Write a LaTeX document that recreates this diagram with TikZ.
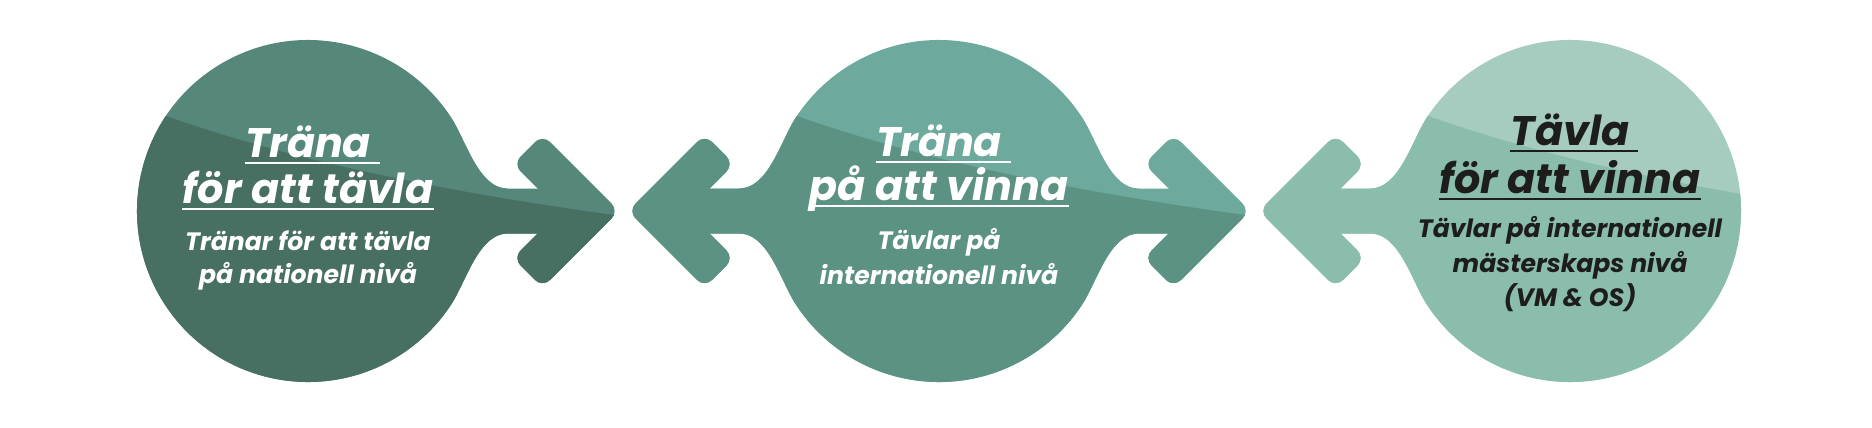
\documentclass[tikz,border=0pt]{standalone}
\usepackage{fontspec}
\setmainfont{Poppins}
\usepackage{tikz}
\usetikzlibrary{positioning}

\definecolor{topp1}{HTML}{55877A}
\definecolor{botten1}{HTML}{476F62}
\definecolor{topp2}{HTML}{6DA99D}
\definecolor{botten2}{HTML}{5C9283}
\definecolor{topp3}{HTML}{A6CBBF}
\definecolor{botten3}{HTML}{8ABDAC}
\definecolor{svart}{HTML}{1D1D1B}

% 形のパス (中心からの相対座標)
\newcommand{\kroppH}{(32:171) arc[start angle=32, end angle=328, radius=171]
  .. controls (160,-65) and (172,-22.5) .. (200,-22.5) -- (250,-22.5) -- (250,22.5) -- (200,22.5)
  .. controls (172,22.5) and (160,65) .. (32:171) -- cycle}
\newcommand{\kroppHV}{(32:171) arc[start angle=32, end angle=148, radius=171]
  .. controls (-160,65) and (-172,22.5) .. (-200,22.5) -- (-250,22.5) -- (-250,-22.5) -- (-200,-22.5)
  .. controls (-172,-22.5) and (-160,-65) .. (212:171) arc[start angle=212, end angle=328, radius=171]
  .. controls (160,-65) and (172,-22.5) .. (200,-22.5) -- (250,-22.5) -- (250,22.5) -- (200,22.5)
  .. controls (172,22.5) and (160,65) .. (32:171) -- cycle}
\newcommand{\kroppV}{(212:171) arc[start angle=212, end angle=508, radius=171]
  .. controls (-160,65) and (-172,22.5) .. (-200,22.5) -- (-250,22.5) -- (-250,-22.5) -- (-200,-22.5)
  .. controls (-172,-22.5) and (-160,-65) .. (212:171) -- cycle}
\newcommand{\huvudH}{(311,0) -- (234.5,76.5) -- (205,47) -- (252,0) -- (205,-47) -- (234.5,-76.5) -- cycle}
\newcommand{\huvudV}{(-311,0) -- (-234.5,76.5) -- (-205,47) -- (-252,0) -- (-205,-47) -- (-234.5,-76.5) -- cycle}
\newcommand{\delning}{(-230,123) -- (-142,95) .. controls (-20,52) and (130,20) .. (306,-4) -- (345,-9)
  -- (345,-200) -- (-345,-200) -- (-345,123) -- cycle}

\tikzset{
  rubrik/.style={font=\fontsize{23.5}{23.5}\selectfont\bfseries\itshape, inner sep=0pt, anchor=base},
  under/.style={font=\fontsize{14.3}{14.3}\selectfont\bfseries\itshape, inner sep=0pt, anchor=base},
  streck/.style={line width=1.1pt},
  spets/.style={rounded corners=6pt}
}

\begin{document}
\begin{tikzpicture}[x=0.02cm, y=0.02cm]
    \useasboundingbox (0,0) rectangle (1872,427);

    % 左の形
    \begin{scope}[shift={(308,216)}]
        \fill[topp1] \kroppH;
        \fill[topp1, spets] \huvudH;
        \begin{scope}
            \clip \kroppH;
            \fill[botten1] \delning;
        \end{scope}
        \begin{scope}
            \clip[spets] \huvudH;
            \fill[botten1] \delning;
        \end{scope}
    \end{scope}

    % 中央の形
    \begin{scope}[shift={(939,216)}]
        \fill[topp2] \kroppHV;
        \fill[topp2, spets] \huvudH;
        \fill[topp2, spets] \huvudV;
        \begin{scope}
            \clip \kroppHV;
            \fill[botten2] \delning;
        \end{scope}
        \begin{scope}
            \clip[spets] \huvudH;
            \fill[botten2] \delning;
        \end{scope}
        \begin{scope}
            \clip[spets] \huvudV;
            \fill[botten2] \delning;
        \end{scope}
    \end{scope}

    % 右の形
    \begin{scope}[shift={(1570,216)}]
        \fill[topp3] \kroppV;
        \fill[topp3, spets] \huvudV;
        \begin{scope}
            \clip \kroppV;
            \fill[botten3] \delning;
        \end{scope}
        \begin{scope}
            \clip[spets] \huvudV;
            \fill[botten3] \delning;
        \end{scope}
    \end{scope}

    % 文字
    \node[rubrik, white] (r1a) at (308,270) {Träna};
    \node[rubrik, white] (r1b) at (308,224) {för att tävla};
    \node[under, white] (u1a) at (308,177) {Tränar för att tävla};
    \node[under, white] (u1b) at (308,144) {på nationell nivå};

    \node[rubrik, white] (r2a) at (939,271) {Träna};
    \node[rubrik, white] (r2b) at (939,227) {på att vinna};
    \node[under, white] (u2a) at (939,178) {Tävlar på};
    \node[under, white] (u2b) at (939,143) {internationell nivå};

    \node[rubrik, svart] (r3a) at (1570,282) {Tävla};
    \node[rubrik, svart] (r3b) at (1570,234) {för att vinna};
    \node[under, svart] (u3a) at (1570,190) {Tävlar på internationell};
    \node[under, svart] (u3b) at (1570,155) {mästerskaps nivå};
    \node[under, svart] (u3c) at (1570,121) {(VM \& OS)};

    % 下線
    \foreach \n in {r1a,r2a} {
        \draw[streck, white] ([yshift=-3.4pt]\n.base west) -- ([yshift=-3.4pt,xshift=5pt]\n.base east);
    }
    \foreach \n in {r1b,r2b} {
        \draw[streck, white] ([yshift=-3.4pt]\n.base west) -- ([yshift=-3.4pt]\n.base east);
    }
    \draw[streck, svart] ([yshift=-3.4pt]r3a.base west) -- ([yshift=-3.4pt,xshift=5pt]r3a.base east);
    \draw[streck, svart] ([yshift=-3.4pt]r3b.base west) -- ([yshift=-3.4pt]r3b.base east);
\end{tikzpicture}
\end{document}
